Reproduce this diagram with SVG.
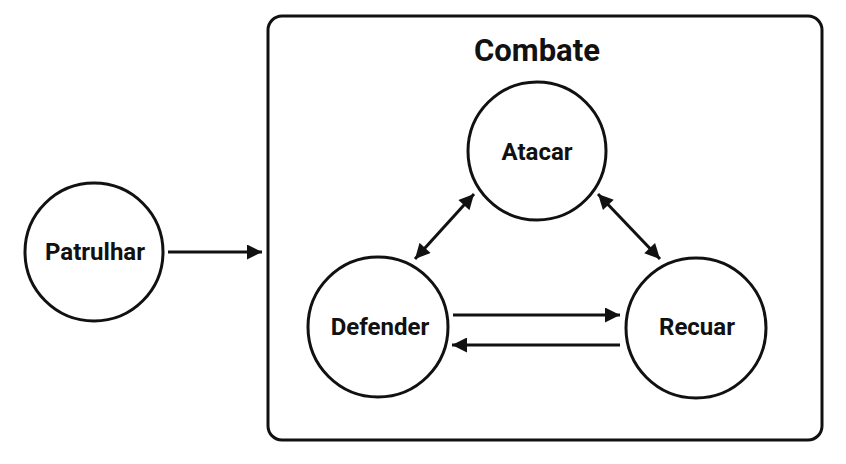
<svg xmlns="http://www.w3.org/2000/svg" width="846" height="464" viewBox="0 0 846 464">
<defs>
<marker id="ah" viewBox="0 0 10 10" refX="10" refY="5" markerWidth="5.5" markerHeight="5" markerUnits="strokeWidth" orient="auto-start-reverse">
<path d="M0,0 L10,5 L0,10 Z" fill="#111"/>
</marker>
<style>
.node{fill:#fff;stroke:#111;stroke-width:3}
.lbl{font-family:Roboto,"Liberation Sans",sans-serif;font-weight:bold;font-size:24px;fill:#111;text-anchor:middle;dominant-baseline:central}
.edge{stroke:#111;stroke-width:3;fill:none}
</style>
</defs>
<rect width="846" height="464" fill="#fff"/>
<g id="combate">
<rect x="268" y="16" width="554" height="424" rx="14" ry="14" fill="#fff" stroke="#111" stroke-width="3"/>
<text x="537" y="50" class="lbl" style="font-size:31px">Combate</text>
</g>
<g id="patrulhar">
<circle cx="94" cy="252" r="69" class="node"/>
<text x="95" y="252" class="lbl">Patrulhar</text>
</g>
<g id="atacar">
<circle cx="537" cy="151" r="69" class="node"/>
<text x="537" y="152" class="lbl">Atacar</text>
</g>
<g id="defender">
<circle cx="378" cy="327" r="70" class="node"/>
<text x="380" y="327" class="lbl">Defender</text>
</g>
<g id="recuar">
<circle cx="696" cy="328" r="70" class="node"/>
<text x="697" y="327" class="lbl">Recuar</text>
</g>
<g id="connectors">
<line x1="168" y1="252" x2="262" y2="252" class="edge" marker-end="url(#ah)"/>
<line x1="415" y1="259" x2="474" y2="194" class="edge" marker-start="url(#ah)" marker-end="url(#ah)"/>
<line x1="598" y1="194" x2="660" y2="259" class="edge" marker-start="url(#ah)" marker-end="url(#ah)"/>
<line x1="453" y1="315" x2="620" y2="315" class="edge" marker-end="url(#ah)"/>
<line x1="620" y1="345" x2="452" y2="345" class="edge" marker-end="url(#ah)"/>
</g>
</svg>
